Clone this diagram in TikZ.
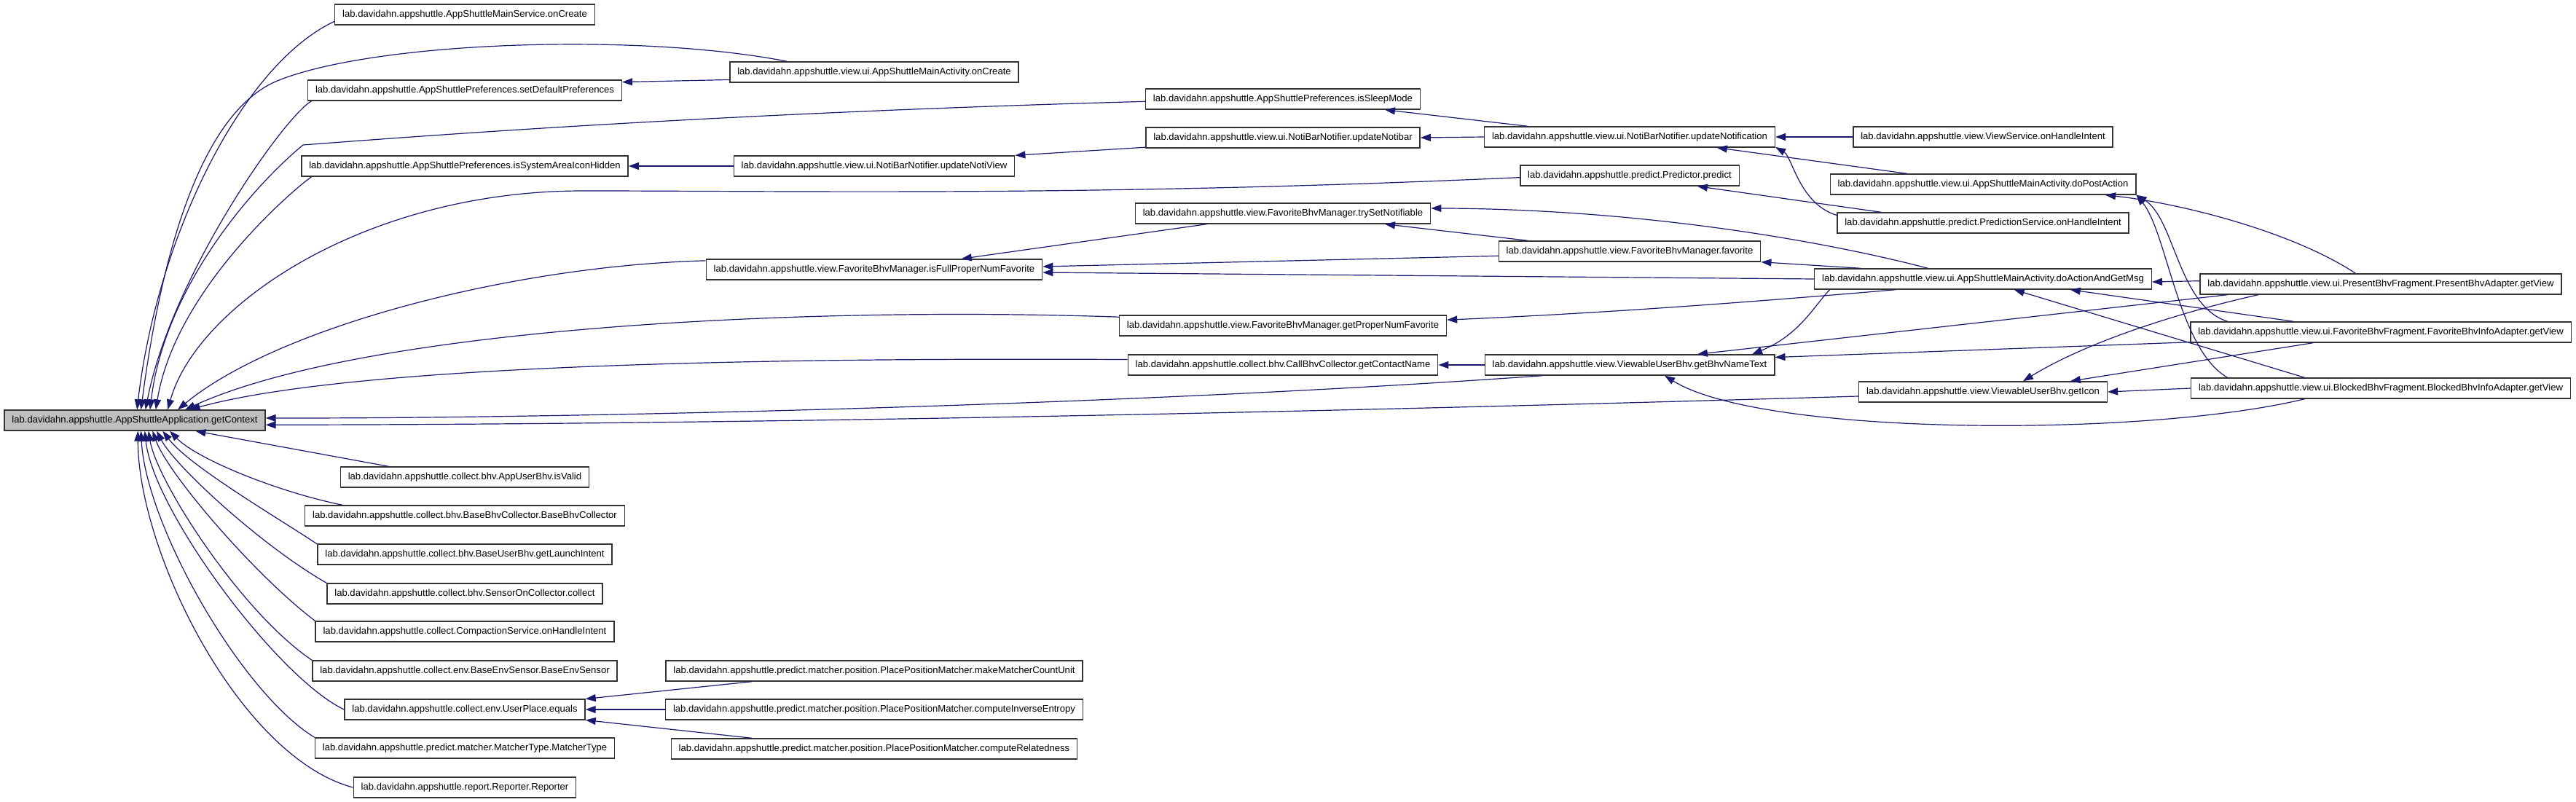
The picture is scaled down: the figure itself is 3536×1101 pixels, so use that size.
\documentclass[tikz,border=0pt]{standalone}
\usepackage{fontspec}
\usetikzlibrary{arrows.meta}
\newfontfamily\dotfont{Liberation Sans}
\definecolor{edgeblue}{RGB}{25,25,112}
\definecolor{rootgray}{RGB}{191,191,191}

\begin{document}
\begin{tikzpicture}[x=0.5pt, y=-0.5pt,
  fn/.style={draw=black!80, line width=0.7pt, fill=white, inner xsep=5.2pt, inner ysep=0pt,
    minimum height=14pt, font=\dotfont\fontsize{6.55}{7}\selectfont},
  root/.style={fn, fill=rootgray},
  call/.style={edgeblue, line width=0.6pt, -{Triangle[length=7pt,width=5pt]}}]
  \useasboundingbox[fill=white] (0,0) rectangle (3536,1101);

  % Funcion raiz
  \node[root] (gc) at (185,577) {lab.davidahn.appshuttle.AppShuttleApplication.getContext};

  % Primera columna de llamadores
  \foreach \nm/\y/\txt in {ms/20/AppShuttleMainService.onCreate,
      sdp/124/AppShuttlePreferences.setDefaultPreferences,
      sah/228/AppShuttlePreferences.isSystemAreaIconHidden,
      auv/655/collect.bhv.AppUserBhv.isValid,
      bbc/708/collect.bhv.BaseBhvCollector.BaseBhvCollector,
      gli/761/collect.bhv.BaseUserBhv.getLaunchIntent,
      soc/815/collect.bhv.SensorOnCollector.collect,
      cps/867/collect.CompactionService.onHandleIntent,
      bes/921/collect.env.BaseEnvSensor.BaseEnvSensor,
      upe/974/collect.env.UserPlace.equals,
      mtt/1027/predict.matcher.MatcherType.MatcherType,
      rep/1081/report.Reporter.Reporter}
    \node[fn] (\nm) at (638,\y) {lab.davidahn.appshuttle.\txt};

  % Segunda columna
  \foreach \nm/\y/\txt in {ma/99/view.ui.AppShuttleMainActivity.onCreate,
      unv/228/view.ui.NotiBarNotifier.updateNotiView,
      ifp/370/view.FavoriteBhvManager.isFullProperNumFavorite,
      mcu/921/predict.matcher.position.PlacePositionMatcher.makeMatcherCountUnit,
      cie/974/predict.matcher.position.PlacePositionMatcher.computeInverseEntropy,
      crl/1028/predict.matcher.position.PlacePositionMatcher.computeRelatedness}
    \node[fn] (\nm) at (1200,\y) {lab.davidahn.appshuttle.\txt};

  % Tercera columna
  \foreach \nm/\y/\txt in {isl/136/AppShuttlePreferences.isSleepMode,
      unb/189/view.ui.NotiBarNotifier.updateNotibar,
      tsn/293/view.FavoriteBhvManager.trySetNotifiable,
      gpn/447/view.FavoriteBhvManager.getProperNumFavorite,
      gcn/501/collect.bhv.CallBhvCollector.getContactName}
    \node[fn] (\nm) at (1761,\y) {lab.davidahn.appshuttle.\txt};

  % Cuarta columna
  \foreach \nm/\y/\txt in {unf/188/view.ui.NotiBarNotifier.updateNotification,
      prd/241/predict.Predictor.predict,
      fav/345/view.FavoriteBhvManager.favorite,
      gbt/501/view.ViewableUserBhv.getBhvNameText}
    \node[fn] (\nm) at (2237,\y) {lab.davidahn.appshuttle.\txt};

  % Quinta columna
  \foreach \nm/\y/\txt in {vsh/188/view.ViewService.onHandleIntent,
      dpa/253/view.ui.AppShuttleMainActivity.doPostAction,
      psh/306/predict.PredictionService.onHandleIntent,
      dam/383/view.ui.AppShuttleMainActivity.doActionAndGetMsg,
      gic/538/view.ViewableUserBhv.getIcon}
    \node[fn] (\nm) at (2722,\y) {lab.davidahn.appshuttle.\txt};

  % Sexta columna
  \foreach \nm/\y/\txt in {pbg/390/view.ui.PresentBhvFragment.PresentBhvAdapter.getView,
      fbg/456/view.ui.FavoriteBhvFragment.FavoriteBhvInfoAdapter.getView,
      bbg/533/view.ui.BlockedBhvFragment.BlockedBhvInfoAdapter.getView}
    \node[fn] (\nm) at (3268,\y) {lab.davidahn.appshuttle.\txt};

  % Llamadas a getContext desde arriba
  \draw[call] (ms.183) .. controls (330,90) and (215,330) .. (gc.78);
  \draw[call] (ma.173) .. controls (880,45) and (520,56) .. (383,110) .. controls (273,153) and (220,360) .. (gc.60);
  \draw[call] (sdp.184) .. controls (390,160) and (235,380) .. (gc.45);
  \draw[call] (isl.181) .. controls (1000,155) and (600,185) .. (416,199) .. controls (340,262) and (225,400) .. (gc.35);
  \draw[call] (sah.184) .. controls (400,262) and (240,400) .. (gc.27);
  \draw[call] (prd.181) .. controls (1500,270) and (1100,262) .. (800,262) .. controls (500,262) and (270,420) .. (gc.18);
  \draw[call] (ifp.177) .. controls (700,365) and (380,450) .. (gc.14);
  \draw[call] (gpn.177) .. controls (1100,420) and (500,450) .. (gc.12);
  \draw[call] (gcn.178) .. controls (900,490) and (450,510) .. (gc.11);

  % desde la derecha
  \draw[call] (gbt.187) .. controls (1500,560) and (700,575) .. (gc.1);
  \draw[call] (gic.182) .. controls (1500,575) and (800,583) .. (gc.358);

  % desde abajo
  \draw[call] (auv.172) -- (gc.350);
  \draw[call] (bbc.175) .. controls (380,675) and (270,630) .. (gc.343);
  \draw[call] (gli.176) .. controls (380,710) and (260,640) .. (gc.339);
  \draw[call] (soc.north west) .. controls (360,750) and (240,640) .. (gc.334);
  \draw[call] (cps.north west) .. controls (350,790) and (230,650) .. (gc.329);
  \draw[call] (bes.north west) .. controls (330,840) and (215,660) .. (gc.322);
  \draw[call] (upe.west) .. controls (380,930) and (210,700) .. (gc.313);
  \draw[call] (mtt.north west) .. controls (330,950) and (200,720) .. (gc.300);
  \draw[call] (rep.west) .. controls (330,1040) and (190,760) .. (gc.286);

  % Resto de llamadas
  \draw[call] (ma.183) -- (sdp.3);
  \draw[call] (unv.west) -- (sah.east);
  \draw[call] (unb.184) -- (unv.north east);
  \draw[call] (unf.west) -- (unb.east);
  \draw[call] (unf.174) -- (isl.354);
  \draw[call] (vsh.west) -- (unf.east);
  \draw[call] (dpa.172) -- (unf.353);
  \draw[call] (psh.177) .. controls (2470,280) and (2460,215) .. (unf.356);
  \draw[call] (psh.174) -- (prd.351);
  \draw[call] (dam.169) .. controls (2500,330) and (2250,287) .. (tsn.2);
  \draw[call] (fav.174) -- (tsn.354);
  \draw[call] (tsn.188) -- (ifp.7);
  \draw[call] (fav.182) -- (ifp.1);
  \draw[call] (dam.west) -- (ifp.359);
  \draw[call] (dam.175) -- (fav.south east);
  \draw[call] (dam.187) .. controls (2400,415) and (2200,430) .. (gpn.2);
  \draw[call] (gbt.west) -- (gcn.east);
  \draw[call] (dam.184) .. controls (2490,420) and (2470,460) .. (gbt.5);
  \draw[call] (pbg.179) -- (dam.359);
  \draw[call] (pbg.157) .. controls (3150,320) and (3000,280) .. (dpa.355);
  \draw[call] (pbg.184) -- (gbt.9);
  \draw[call] (pbg.185) .. controls (3030,420) and (2880,460) .. (gic.15);
  \draw[call] (fbg.173) -- (dam.353);
  \draw[call] (fbg.176) .. controls (2990,420) and (2985,300) .. (dpa.south east);
  \draw[call] (fbg.183) -- (gbt.3);
  \draw[call] (fbg.189) -- (gic.7);
  \draw[call] (bbg.172) -- (dam.341);
  \draw[call] (bbg.176) .. controls (2990,480) and (2975,320) .. (dpa.south east);
  \draw[call] (bbg.west) -- (gic.east);
  \draw[call] (bbg.188) .. controls (2950,600) and (2420,600) .. (gbt.343);
  \draw[call] (mcu.185) -- (upe.5);
  \draw[call] (cie.west) -- (upe.east);
  \draw[call] (crl.175) -- (upe.355);
\end{tikzpicture}
\end{document}
